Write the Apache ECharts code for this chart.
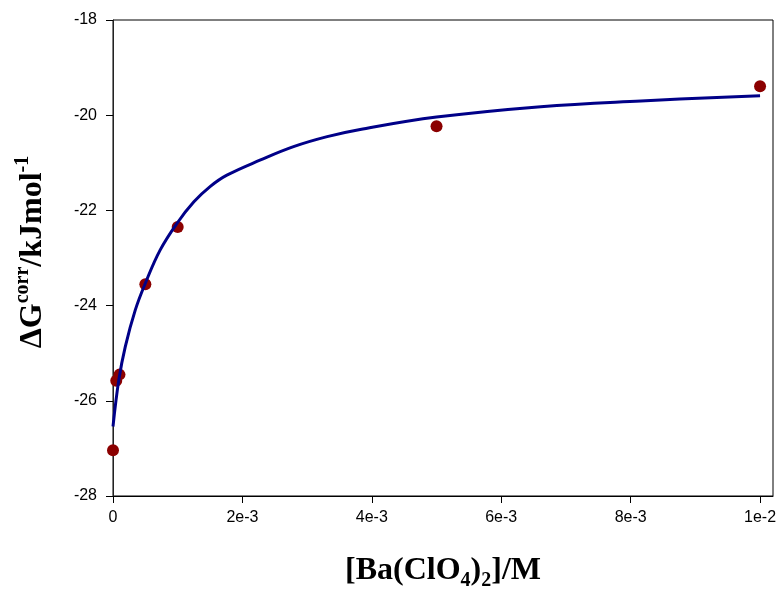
<!DOCTYPE html>
<html>
<head>
<meta charset="utf-8">
<script src="https://cdn.jsdelivr.net/npm/echarts@6/dist/echarts.min.js"></script>
<style>html,body{margin:0;padding:0;background:#fff}#c{width:782px;height:592px}</style>
</head>
<body>
<div id="c"></div>
<script>
// Measured data points
var pointX = [0, 0.00005, 0.0001, 0.0005, 0.001, 0.005, 0.01];
var pointY = [-27.04, -25.58, -25.45, -23.55, -22.35, -20.23, -19.39];
// Fitted curve
var curveX = [0, 0.00009, 0.00019, 0.000345, 0.0005, 0.00073, 0.00099, 0.00125, 0.0015, 0.00176, 0.00228, 0.00279, 0.00331, 0.00382, 0.005, 0.00661, 0.00816, 0.01];
var curveY = [-26.54, -25.56, -24.86, -24.09, -23.53, -22.83, -22.27, -21.82, -21.50, -21.26, -20.94, -20.66, -20.45, -20.30, -20.04, -19.82, -19.70, -19.59];
// Tick values and labels
var xTicks = [0, 0.002, 0.004, 0.006, 0.008, 0.01];
var xTickLabels = ['0', '2e-3', '4e-3', '6e-3', '8e-3', '1e-2'];

var serif = '"Liberation Serif","Times New Roman",serif';
var sans = '"Liberation Sans",Arial,sans-serif';

var chart = echarts.init(document.getElementById('c'));
chart.setOption({
  animation: false,
  backgroundColor: '#fff',
  grid: {left: 113, top: 20, width: 660, height: 476, show: true, borderColor: '#000', borderWidth: 1},
  xAxis: {
    type: 'value', min: 0, max: 0.0102,
    splitLine: {show: false},
    axisLine: {onZero: false, lineStyle: {color: '#000', width: 1}},
    axisTick: {show: true, length: 7, customValues: xTicks, lineStyle: {color: '#000'}},
    axisLabel: {
      customValues: xTicks, margin: 14, color: '#000', fontSize: 16, fontFamily: sans,
      formatter: function (v) {
        for (var i = 0; i < xTicks.length; i++) if (Math.abs(v - xTicks[i]) < 1e-9) return xTickLabels[i];
        return '';
      }
    }
  },
  yAxis: {
    type: 'value', min: -28, max: -18, interval: 2,
    splitLine: {show: false},
    axisLine: {onZero: false, lineStyle: {color: '#222', width: 1}},
    axisTick: {show: true, length: 7, lineStyle: {color: '#000'}},
    axisLabel: {margin: 16, color: '#000', fontSize: 16, fontFamily: sans}
  },
  series: [
    {
      type: 'scatter', z: 2,
      data: pointX.map(function (x, i) { return [x, pointY[i]]; }),
      symbol: 'circle', symbolSize: 12,
      itemStyle: {color: '#8b0000', opacity: 1}
    },
    {
      type: 'line', z: 3,
      data: curveX.map(function (x, i) { return [x, curveY[i]]; }),
      showSymbol: false, smooth: 0.4,
      lineStyle: {color: '#000088', width: 3}
    }
  ],
  graphic: [
    {
      type: 'text', x: 33, y: 252, rotation: Math.PI / 2,
      style: {
        text: '{a|ΔG}{s|corr}{a|/kJmol}{s|-1}',
        align: 'center', verticalAlign: 'middle',
        rich: {
          a: {fontSize: 32, fontWeight: 'bold', fontFamily: serif, lineHeight: 40, fill: '#000', verticalAlign: 'middle'},
          s: {fontSize: 20, fontWeight: 'bold', fontFamily: serif, lineHeight: 20, fill: '#000', verticalAlign: 'top'}
        }
      }
    },
    {
      type: 'text', x: 443, y: 571,
      style: {
        text: '{a|[Ba(ClO}{b|4}{a|)}{b|2}{a|]/M}',
        align: 'center', verticalAlign: 'middle',
        rich: {
          a: {fontSize: 32, fontWeight: 'bold', fontFamily: serif, lineHeight: 40, fill: '#000', verticalAlign: 'middle'},
          b: {fontSize: 20, fontWeight: 'bold', fontFamily: serif, lineHeight: 20, fill: '#000', verticalAlign: 'bottom'}
        }
      }
    }
  ]
});
</script>
</body>
</html>
